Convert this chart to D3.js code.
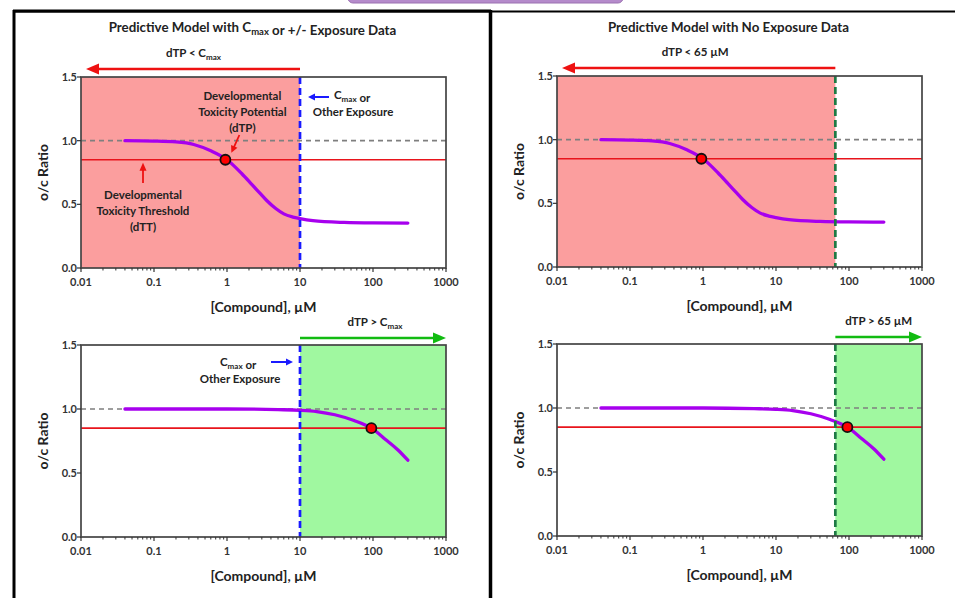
<!DOCTYPE html>
<html><head><meta charset="utf-8">
<script src="https://cdn.jsdelivr.net/npm/d3@7"></script>
<style>
body{margin:0;background:#fff;}
svg{display:block;font-family:Lato,"Open Sans",sans-serif;font-weight:bold;}
</style></head>
<body><svg id="c" width="955" height="598"></svg>
<script>
// ---- data ----
const xTicks = [0.01, 0.1, 1, 10, 100, 1000];
const yTicks = [0, 0.5, 1.0, 1.5];
const earlyX = [0.04, 0.1, 0.2, 0.35, 0.6, 1, 1.6, 2.2, 2.8, 3.5, 4.7, 6, 8, 10, 15, 40, 100, 300];
const earlyY = [1.0, 0.997, 0.99, 0.97, 0.92, 0.85, 0.74, 0.655, 0.59, 0.53, 0.465, 0.425, 0.40, 0.388, 0.372, 0.358, 0.354, 0.353];
const lateX = [0.04, 1, 5, 10, 17, 30, 55, 95, 150, 220, 300];
const lateY = [1.0, 1.0, 0.995, 0.99, 0.98, 0.955, 0.91, 0.85, 0.76, 0.68, 0.6];
const baseline = 1.0;
const dTT = 0.85;
const cmax = 10;
const fixedLimit = 65;
const dtpEarly = 0.95;
const dtpLate = 95;
const titles = ["Predictive Model with C|max| or +/- Exposure Data", "Predictive Model with No Exposure Data"];

const svg = d3.select("#c");
const FS = "Lato, 'Open Sans', sans-serif";
const AF = 11.5; // annotation font size

// frame decorations
svg.append("rect").attr("x",348).attr("y",-8).attr("width",275).attr("height",11).attr("rx",5)
  .attr("fill","#b58bcb").attr("stroke","#9a70b0").attr("stroke-width",1);
svg.append("line").attr("x1",13).attr("x2",955).attr("y1",11.5).attr("y2",11.5).attr("stroke","#000").attr("stroke-width",2);
svg.append("line").attr("x1",13).attr("x2",491).attr("y1",11).attr("y2",11).attr("stroke","#000").attr("stroke-width",3);
svg.append("line").attr("x1",14).attr("x2",14).attr("y1",10).attr("y2",598).attr("stroke","#000").attr("stroke-width",3);
svg.append("line").attr("x1",490.5).attr("x2",490.5).attr("y1",10).attr("y2",598).attr("stroke","#000").attr("stroke-width",3.5);

function arrow(g, x1, y1, x2, y2, color, w, hl, hw){
  const dx = x2-x1, dy = y2-y1, L = Math.hypot(dx,dy), ux = dx/L, uy = dy/L;
  const bx = x2 - ux*hl, by = y2 - uy*hl;
  g.append("line").attr("x1",x1).attr("y1",y1).attr("x2",bx+ux).attr("y2",by+uy)
    .attr("stroke",color).attr("stroke-width",w);
  g.append("path").attr("d",`M${x2},${y2}L${bx - uy*hw/2},${by + ux*hw/2}L${bx + uy*hw/2},${by - ux*hw/2}Z`)
    .attr("fill",color);
}

function richText(g, x, y, str, size, anchor){
  // "|" toggles subscript
  const t = g.append("text").attr("x",x).attr("y",y).attr("text-anchor",anchor||"middle")
    .attr("font-size",size).attr("fill","#222").attr("font-family",FS);
  str.split("|").forEach((part,i)=>{
    if(!part) return;
    if(i%2===1){
      t.append("tspan").attr("font-size",size*0.7).attr("dy",size*0.25).text(part);
      t.append("tspan").attr("dy",-size*0.25).text("");
    } else t.append("tspan").text(part);
  });
  return t;
}

const panels = [
  {x0:81, x1:446, y0:77, y1:268, mode:"early", limit:cmax, lineColor:"#1a1aff", title:titles[0], arrowLabel:"dTP < C|max|", lblOff:3},
  {x0:557, x1:922, y0:76, y1:267, mode:"early", limit:fixedLimit, lineColor:"#1e7a45", title:titles[1], arrowLabel:"dTP < 65 µM", lblOff:-1},
  {x0:81, x1:446, y0:345, y1:537, mode:"late", limit:cmax, lineColor:"#1a1aff", arrowLabel:"dTP > C|max|", lblOff:2},
  {x0:557, x1:922, y0:344, y1:536, mode:"late", limit:fixedLimit, lineColor:"#1e7a45", arrowLabel:"dTP > 65 µM", lblOff:0}
];

panels.forEach((p, idx)=>{
  const g = svg.append("g");
  const x = d3.scaleLog().domain([xTicks[0], xTicks[xTicks.length-1]]).range([p.x0, p.x1]);
  const y = d3.scaleLinear().domain([yTicks[0], yTicks[yTicks.length-1]]).range([p.y1, p.y0]);
  const early = p.mode === "early";

  // shaded region
  const sx0 = early ? x.domain()[0] : p.limit;
  const sx1 = early ? p.limit : x.domain()[1];
  g.append("rect").attr("x",x(sx0)).attr("y",y(1.5)).attr("width",x(sx1)-x(sx0)).attr("height",y(0)-y(1.5))
    .attr("fill", early ? "#fb9e9e" : "#a0f8a0");

  // reference lines
  g.append("line").attr("x1",x.range()[0]).attr("x2",x.range()[1]).attr("y1",y(baseline)).attr("y2",y(baseline))
    .attr("stroke","#7f7f7f").attr("stroke-width",1.7).attr("stroke-dasharray","5,4");
  g.append("line").attr("x1",x.range()[0]).attr("x2",x.range()[1]).attr("y1",y(dTT)).attr("y2",y(dTT))
    .attr("stroke","#e8141c").attr("stroke-width",1.7);

  // curve
  const xs = early ? earlyX : lateX, ys = early ? earlyY : lateY;
  const pts = xs.map((v,i)=>[v, ys[i]]);
  g.append("path").datum(pts)
    .attr("d", d3.line().x(d=>x(d[0])).y(d=>y(d[1])).curve(d3.curveMonotoneX))
    .attr("fill","none").attr("stroke","#a700ee").attr("stroke-width",3.3).attr("stroke-linecap","round");

  // limit dashed line
  g.append("line").attr("x1",x(p.limit)).attr("x2",x(p.limit)).attr("y1",y(1.5)).attr("y2",y(0))
    .attr("stroke",p.lineColor).attr("stroke-width",2.7).attr("stroke-dasharray","7,4");

  // frame
  g.append("rect").attr("x",p.x0).attr("y",p.y0).attr("width",p.x1-p.x0).attr("height",p.y1-p.y0)
    .attr("fill","none").attr("stroke","#444").attr("stroke-width",1.7);

  // axes
  const minor = [];
  for(let e=-2;e<3;e++) for(let k=2;k<10;k++) minor.push(k*Math.pow(10,e));
  g.selectAll(".mn").data(minor).enter().append("line")
    .attr("x1",d=>x(d)).attr("x2",d=>x(d)).attr("y1",y(0)).attr("y2",y(0)+2.5)
    .attr("stroke","#333").attr("stroke-width",1);
  g.selectAll(".mj").data(xTicks).enter().append("line")
    .attr("x1",d=>x(d)).attr("x2",d=>x(d)).attr("y1",y(0)).attr("y2",y(0)+4)
    .attr("stroke","#333").attr("stroke-width",1.2);
  g.selectAll(".xl").data(xTicks).enter().append("text")
    .attr("x",d=>x(d)).attr("y",y(0)+18).attr("text-anchor","middle")
    .attr("font-size",11).attr("fill","#333").text(d=>d3.format("~g")(d));
  g.selectAll(".yt").data(yTicks).enter().append("line")
    .attr("x1",x.range()[0]-4).attr("x2",x.range()[0]).attr("y1",d=>y(d)).attr("y2",d=>y(d))
    .attr("stroke","#333").attr("stroke-width",1.2);
  g.selectAll(".yl").data(yTicks).enter().append("text")
    .attr("x",x.range()[0]-4).attr("y",d=>y(d)+4).attr("text-anchor","end")
    .attr("font-size",11).attr("fill","#333").text(d=>d3.format(".1f")(d));

  const cx = (p.x0+p.x1)/2;
  g.append("text").attr("x",cx).attr("y",y(0)+44).attr("text-anchor","middle")
    .attr("font-size",14).attr("fill","#222").text("[Compound], µM");
  g.append("text").attr("transform",`translate(${p.x0-33},${(p.y0+p.y1)/2}) rotate(-90)`)
    .attr("text-anchor","middle").attr("font-size",14).attr("fill","#222").text("o/c Ratio");

  // dTP point
  const dx = early ? dtpEarly : dtpLate;
  g.append("circle").attr("cx",x(dx)).attr("cy",y(dTT)).attr("r",5)
    .attr("fill","#ff0000").attr("stroke","#111").attr("stroke-width",1.8);

  // top arrow + label
  if(early){
    arrow(g, x(p.limit), p.y0-8, x(0.01)+5, p.y0-8, "#ee1111", 2.6, 13, 11);
    richText(g, (x(p.limit)+x(0.01))/2 + p.lblOff, p.y0-20, p.arrowLabel, AF);
  } else {
    arrow(g, x(p.limit), p.y0-7, x(1000), p.y0-7, "#11bb11", 2.6, 13, 11);
    richText(g, (x(p.limit)+x(1000))/2 + p.lblOff, p.y0-19, p.arrowLabel, AF);
  }

  if(p.title) g.append("text").attr("x",cx - 11).attr("y",32).attr("text-anchor","middle")
    .attr("font-size",13.3).attr("fill","#222").call(t=>{
      const parts = p.title.split("|");
      parts.forEach((part,i)=>{
        if(i%2===1){ t.append("tspan").attr("font-size",9.5).attr("dy",3).text(part); t.append("tspan").attr("dy",-3).text(""); }
        else t.append("tspan").text(part);
      });
    });

  // annotations on left panels
  if(idx===0){
    [["Developmental",96],["Toxicity Potential",112],["(dTP)",128]].forEach(([s,yy])=>
      g.append("text").attr("x",x(dx)+17).attr("y",yy+4).attr("text-anchor","middle").attr("font-size",AF).attr("fill","#222").text(s));
    arrow(g, x(dx)+14, 135, x(dx)+6, y(dTT)-7, "#ee1111", 1.8, 7, 7);
    [["Developmental",195],["Toxicity Threshold",211],["(dTT)",227]].forEach(([s,yy])=>
      g.append("text").attr("x",143).attr("y",yy+4).attr("text-anchor","middle").attr("font-size",AF).attr("fill","#222").text(s));
    arrow(g, 143, 183, 143, y(dTT)+3, "#ee1111", 1.8, 8, 7);
    arrow(g, x(cmax)+29, 97, x(cmax)+8, 97, "#1a1aff", 2, 7, 7);
    richText(g, 334, 99, "C|max| or", AF, "start");
    g.append("text").attr("x",353).attr("y",116).attr("text-anchor","middle").attr("font-size",AF).attr("fill","#222").text("Other Exposure");
  }
  if(idx===2){
    richText(g, 220, 366, "C|max| or", AF, "start");
    arrow(g, x(cmax)-29, 362, x(cmax)-7, 362, "#1a1aff", 2, 7, 7);
    g.append("text").attr("x",240).attr("y",383).attr("text-anchor","middle").attr("font-size",AF).attr("fill","#222").text("Other Exposure");
  }
});
</script></body></html>
